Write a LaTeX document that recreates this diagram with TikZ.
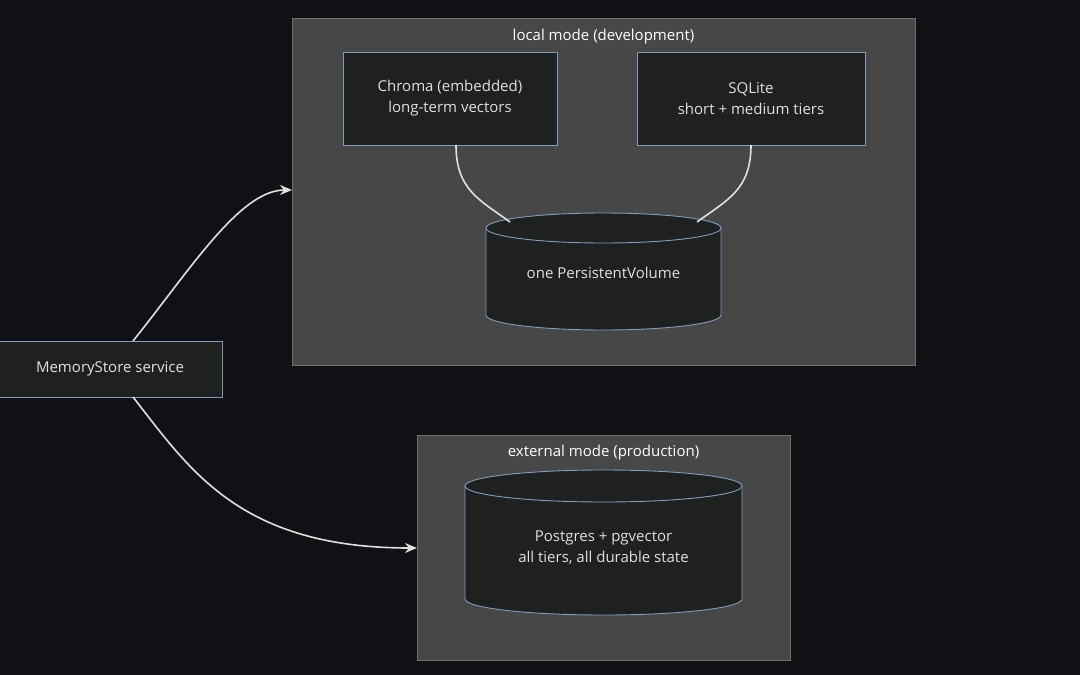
\documentclass[tikz,border=0pt]{standalone}
\usepackage{fontspec}
\setmainfont{Open Sans}
\usetikzlibrary{arrows.meta}
\definecolor{bg}{HTML}{0F1115}
\definecolor{clu}{HTML}{474747}
\definecolor{clb}{HTML}{6E6E6E}
\definecolor{nf}{HTML}{1F2020}
\definecolor{nb}{HTML}{7F9DBF}
\definecolor{tx}{HTML}{E0E0E0}
\tikzset{
 x=1pt,y=-1pt,
 cluster/.style={fill=clu,draw=clb,line width=0.8pt},
 box/.style={fill=nf,draw=nb,line width=0.9pt},
 lbl/.style={text=tx,font=\fontsize{15}{21}\selectfont,align=center},
 ttl/.style={text=white,font=\fontsize{15}{21}\selectfont},
 edge/.style={draw=tx,line width=1.6pt},
 arr/.style={edge,-{Stealth[length=12pt,width=10pt]}},
}
\newcommand{\cyl}[5]{% x1 x2 ytop ybot ry
 \fill[nf] (#1,#3+#5) arc[start angle=180,end angle=360,x radius={(#2-#1)/2},y radius=-#5] -- (#2,#4-#5) arc[start angle=0,end angle=-180,x radius={(#2-#1)/2},y radius=-#5] -- cycle;
 \fill[nf] ({(#1+#2)/2},#3+#5) ellipse[x radius={(#2-#1)/2},y radius=#5];
 \draw[nb,line width=0.9pt] ({(#1+#2)/2},#3+#5) ellipse[x radius={(#2-#1)/2},y radius=#5];
 \draw[nb,line width=0.9pt] (#1,#3+#5) -- (#1,#4-#5) arc[start angle=180,end angle=360,x radius={(#2-#1)/2},y radius=-#5] -- (#2,#3+#5);
}
\begin{document}
\begin{tikzpicture}
\fill[bg] (0,0) rectangle (1080,675);
\useasboundingbox (0,0) rectangle (1080,675);
% local cluster
\draw[cluster] (292,18) rectangle (915,365);
\node[ttl] (lt) at (603.5,37) {local mode (development)};
\draw[box] (343,52) rectangle (557,145);
\node[lbl] (chroma) at (450,98.5) {Chroma (embedded)\\long-term vectors};
\draw[box] (637,52) rectangle (865,145);
\node[lbl] (sqlite) at (751,98.5) {SQLite\\short + medium tiers};
\cyl{486}{721}{213}{330}{15}
\node[lbl] (pv) at (603.5,273) {one PersistentVolume};
\coordinate (ch) at (456,145);
\coordinate (sq) at (751,145);
\coordinate (pvl) at (510,222);
\coordinate (pvr) at (697,222);
\draw[edge] (ch) .. controls (456,190) and (480,200) .. (pvl);
\draw[edge] (sq) .. controls (751,190) and (727,200) .. (pvr);
% external cluster
\draw[cluster] (417,435) rectangle (790,660);
\node[ttl] (et) at (603.5,453) {external mode (production)};
\cyl{465}{742}{470}{615}{16}
\node[lbl] (pg) at (603.5,548) {Postgres + pgvector\\all tiers, all durable state};
% memorystore
\draw[box] (-2,341) rectangle (222,397);
\node[lbl] (ms) at (110,369) {MemoryStore service};
\coordinate (mst) at (133,341);
\coordinate (msb) at (133,397);
\coordinate (lin) at (292,190);
\coordinate (ein) at (417,548);
\draw[arr] (mst) .. controls (190,270) and (240,190) .. (lin);
\draw[arr] (msb) .. controls (190,470) and (240,548) .. (ein);
\end{tikzpicture}
\end{document}
